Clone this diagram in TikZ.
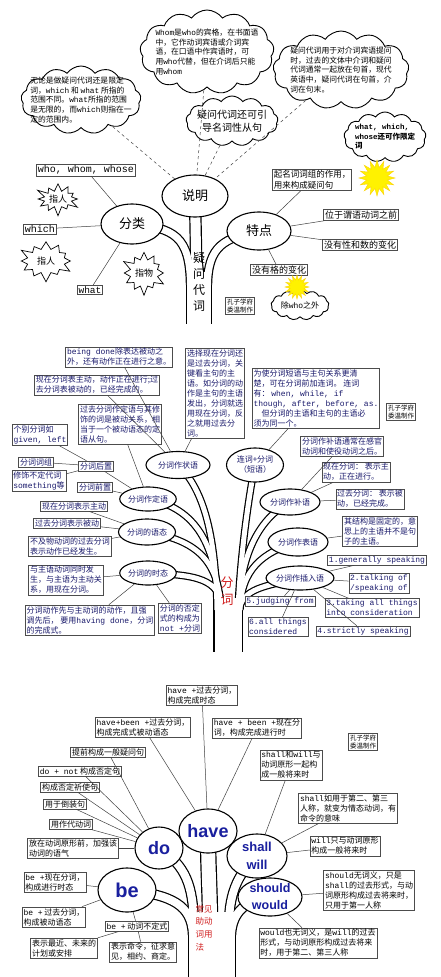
\documentclass[tikz,border=0pt]{standalone}
\usepackage{fontspec}
\setmainfont{Noto Sans CJK SC}
\newfontfamily\enmono{Liberation Mono}
\newfontfamily\ensans{Liberation Sans}
\usetikzlibrary{shapes.geometric,shapes.symbols,backgrounds}
\definecolor{NoteBlue}{rgb}{0.1,0.1,0.42}
\definecolor{VerbBlue}{rgb}{0.1,0.12,0.62}
\definecolor{StemRed}{rgb}{0.82,0.12,0.12}
\newcommand{\ent}[1]{{\enmono #1}}

\tikzset{
  box/.style={draw=black!70, line width=0.6pt, fill=white, inner sep=1.3pt, align=left, font=\fontsize{8}{10}\selectfont},
  nbox/.style={box, text=NoteBlue},
  ell/.style={draw, ellipse, line width=1.1pt, fill=white, inner sep=0pt, align=center},
  nell/.style={ell, text=NoteBlue, font=\fontsize{8}{10}\selectfont},
  vell/.style={ell, text=VerbBlue, font=\ensans\bfseries\fontsize{18}{20}\selectfont},
  link/.style={draw=black!75, line width=0.5pt},
  hint/.style={draw=black!75, dashed, line width=0.5pt},
  puff/.style={cloud, cloud puffs=13, cloud puff arc=110, draw, line width=0.9pt, fill=white, cloud ignores aspect, inner sep=0pt},
  cloudtxt/.style={align=left, inner sep=0pt, font=\fontsize{7.8}{9.8}\selectfont},
  burst/.style={starburst, starburst points=12, starburst point height=10pt, draw, line width=0.7pt, fill=white, inner sep=0pt, font=\fontsize{9}{11}\selectfont},
  sun/.style={star, star points=16, star point ratio=1.7, fill=yellow, draw=yellow!70!orange, inner sep=0pt},
  bark/.style={draw=black, line width=#1+2.4pt},
  pith/.style={draw=white, line width=#1},
  stem/.style={align=left, inner sep=0pt, font=\fontsize{12}{15.7}\selectfont},
  sign/.style={box, font=\fontsize{6.5}{8}\selectfont}
}

% tree bodies, drawn twice: bark first, pith on top
\newcommand{\toptree}[1]{%
  \draw[#1=24pt] (199,272) -- (199,324);
  \draw[#1=10pt] (shuoming.center) -- (196,250) .. controls (196,262) and (198,268) .. (199,285);
  \draw[#1=7pt] (fenlei.center) .. controls (174,228) and (190,236) .. (190.5,285);
  \draw[#1=7pt] (tedian.center) .. controls (224,238) and (208,246) .. (207.5,285);
}
\newcommand{\midtree}[1]{%
  \draw[#1=27pt] (228,598) -- (228,652);
  \draw[#1=5pt] (zy.center) .. controls (205,490) and (216,540) .. (217,610);
  \draw[#1=5pt] (dy.center) .. controls (196,508) and (217,545) .. (219,610);
  \draw[#1=5pt] (yt.center) .. controls (196,540) and (219,560) .. (221,610);
  \draw[#1=5pt] (st.center) .. controls (195,575) and (221,578) .. (222,610);
  \draw[#1=5pt] (lce.center) .. controls (248,500) and (240,560) .. (238,610);
  \draw[#1=5pt] (bu.center) .. controls (256,520) and (240,560) .. (239,610);
  \draw[#1=5pt] (by.center) .. controls (262,552) and (241,570) .. (240,610);
  \draw[#1=5pt] (cr.center) .. controls (266,586) and (241,588) .. (239,612);
}
\newcommand{\bottree}[1]{%
  \draw[#1=46pt] (212,912) -- (212,980);
  \draw[#1=14pt] (have.center) .. controls (208,870) and (210,890) .. (210,925);
  \draw[#1=8pt] (do.center) .. controls (186,866) and (193,885) .. (194,925);
  \draw[#1=8pt] (be.center) .. controls (172,895) and (192,905) .. (193,935);
  \draw[#1=8pt] (shall.center) .. controls (240,872) and (229,890) .. (229,925);
  \draw[#1=8pt] (should.center) .. controls (246,900) and (232,912) .. (231,935);
}

\begin{document}
\begin{tikzpicture}[x=1pt,y=-1pt]
\begin{pgfonlayer}{background}
\fill[white] (0,0) rectangle (440,977);
\end{pgfonlayer}
\useasboundingbox (0,0) rectangle (440,977);

% ---------- interrogative pronouns
\node[puff, minimum width=120pt, minimum height=68pt] (cA) at (81,100) {};
\node[cloudtxt] (tA) at (cA) {无论是做疑问代词还是限定\\词，\ent{which} 和 \ent{what} 所指的\\范围不同。\ent{what}所指的范围\\是无限的，而\ent{which}则指在一\\定的范围内。};
\node[puff, minimum width=134pt, minimum height=84pt] (cB) at (207,52) {};
\node[cloudtxt] (tB) at (cB) {\ent{Whom}是\ent{who}的宾格，在书面语\\中，它作动词宾语或介词宾\\语，在口语中作宾语时，可\\用\ent{who}代替，但在介词后只能\\用\ent{whom}};
\node[puff, minimum width=92pt, minimum height=50pt] (cC) at (232,121) {};
\node[cloudtxt, align=center, font=\fontsize{10}{13}\selectfont] (tC) at (cC) {疑问代词还可引\\导名词性从句};
\node[puff, minimum width=136pt, minimum height=78pt] (cD) at (341,70) {};
\node[cloudtxt] (tD) at (cD) {疑问代词用于对介词宾语提问\\时，过去的文体中介词和疑问\\代词通常一起放在句首，现代\\英语中，疑问代词在句首，介\\词在句末。};
\node[puff, minimum width=82pt, minimum height=50pt] (cE) at (385,137) {};
\node[cloudtxt, font=\fontsize{7.5}{9.5}\selectfont\bfseries] (tE) at (cE) {\ent{what, which,}\\\ent{whose}还可作限定\\词};
\node[sun, minimum size=36pt] (sunA) at (377,178) {};

\node[ell, minimum width=66pt, minimum height=42pt, font=\fontsize{13}{15}\selectfont] (shuoming) at (195,196) {说明};
\node[ell, minimum width=62pt, minimum height=40pt, font=\fontsize{13}{15}\selectfont] (fenlei) at (132,224) {分类};
\node[ell, minimum width=64pt, minimum height=38pt, font=\fontsize{13}{15}\selectfont] (tedian) at (259,231) {特点};
\node[stem] (yiwen) at (199,282) {疑\\问\\代\\词};

\node[box, font=\fontsize{10}{12}\selectfont] (who) at (86,170) {\ent{who, whom, whose}};
\node[box, font=\fontsize{10}{12}\selectfont] (which) at (40,229) {\ent{which}};
\node[box, font=\fontsize{9.5}{11}\selectfont] (what) at (90,290) {\ent{what}};
\node[burst, minimum width=48pt, minimum height=36pt] (zhirenA) at (58,199) {指人};
\node[burst, minimum width=58pt, minimum height=44pt] (zhirenB) at (46,261) {指人};
\node[burst, minimum width=48pt, minimum height=47pt] (zhiwu) at (144,273) {指物};

\node[box, font=\fontsize{8.5}{10.5}\selectfont] (qiming) at (312,180) {起名词词组的作用，\\用来构成疑问句};
\node[box, font=\fontsize{9}{11}\selectfont] (weiyu) at (361,215) {位于谓语动词之前};
\node[box, font=\fontsize{9}{11}\selectfont] (xingshu) at (360,245) {没有性和数的变化};
\node[box, font=\fontsize{9}{11}\selectfont] (gebian) at (279,270) {没有格的变化};
\node[puff, minimum width=58pt, minimum height=30pt] (cF) at (300,305) {};
\node[cloudtxt, font=\fontsize{8}{10}\selectfont] (tF) at (cF) {除\ent{who}之外};
\node[sun, minimum size=24pt] (sunB) at (297,287) {};
\node[sign] (signA) at (240,306) {孔子学府\\委温制作};

\draw[link] (fenlei) -- (who);
\draw[link] (fenlei) -- (which);
\draw[link] (fenlei) -- (what);
\draw[link] (tedian) -- (qiming);
\draw[link] (tedian) -- (weiyu);
\draw[link] (tedian) -- (xingshu);
\draw[link] (tedian) -- (gebian);
\foreach \c in {cA,cB,cC,cD}
  \draw[hint] (\c) -- (shuoming);

% ---------- participles
\node[nbox] (bd) at (119,357) {\ent{being done}除表达被动之\\外，还有动作正在进行之意。};
\node[nbox] (xz) at (97,385) {现在分词表主动，动作正在进行;过\\去分词表被动的，已经完成的。};
\node[nbox] (xd) at (215,393) {选择现在分词还\\是过去分词，关\\键看主句的主\\语。如分词的动\\作是主句的主语\\发出，分词就选\\用现在分词，反\\之就用过去分\\词。};
\node[nbox] (gq) at (120,424) {过去分词作定语与其修\\饰的词是被动关系，相\\当于一个被动语态的定\\语从句。};
\node[nbox] (gb) at (40,435) {个别分词如\\\ent{given, left}};
\node[nbox] (fz) at (36,462) {分词词组};
\node[nbox] (hz) at (96,466) {分词后置};
\node[nbox] (xs) at (39,481) {修饰不定代词\\\ent{something}等};
\node[nbox] (qz) at (95,487) {分词前置};
\node[nell, minimum width=64pt, minimum height=27pt] (zy) at (178,465) {分词作状语};
\node[nell, minimum width=56pt, minimum height=24pt] (dy) at (148,499) {分词作定语};

\node[nbox] (lcb) at (316,398) {为使分词短语与主句关系更清\\楚，可在分词前加连词。 连词\\有： \ent{when, while, if}\\\ent{though, after, before, as.}\\\quad 但分词的主语和主句的主语必\\须为同一个。};
\node[sign] (signB) at (401,412) {孔子学府\\委温制作};
\node[nell, minimum width=57pt, minimum height=34pt] (lce) at (255,465) {连词+分词\\（短语）};
\node[nbox] (bc) at (342,446) {分词作补语通常在感官\\动词和使役动词之后。};
\node[nbox] (xzf) at (356,472) {现在分词： 表示主\\动，正在进行。};
\node[nbox] (gqf) at (370,499) {过去分词： 表示被\\动，已经完成。};
\node[nell, minimum width=60pt, minimum height=26pt] (bu) at (290,502) {分词作补语};
\node[nbox] (jg) at (380,531) {其结构是固定的，意\\思上的主语并不是句\\子的主语。};
\node[nell, minimum width=60pt, minimum height=28pt] (by) at (298,542) {分词作表语};
\node[nell, minimum width=64pt, minimum height=24pt] (cr) at (300,578) {分词作插入语};
\node[nbox] (g1) at (377,560) {\ent{1.generally speaking}};
\node[nbox] (g2) at (379,583) {\ent{2.talking of}\\\ent{/speaking of}};
\node[nbox] (g5) at (280,601) {\ent{5.judging from}};
\node[nbox] (g3) at (372,608) {\ent{3.taking all things}\\\ent{into consideration}};
\node[nbox] (g6) at (278,627) {\ent{6.all things}\\\ent{considered}};
\node[nbox] (g4) at (363,631) {\ent{4.strictly speaking}};

\node[nbox] (xzzd) at (74,506) {现在分词表示主动};
\node[nbox] (gqbd) at (67,523) {过去分词表示被动};
\node[nbox] (bjw) at (70,546) {不及物动词的过去分词\\表示动作已经发生。};
\node[nell, minimum width=57pt, minimum height=26pt] (yt) at (147,532) {分词的语态};
\node[nbox] (ts) at (66,580) {与主语动词同时发\\生，与主语为主动关\\系，用现在分词。};
\node[nell, minimum width=54pt, minimum height=24pt] (st) at (148,573) {分词的时态};
\node[nbox] (wc) at (90,620) {分词动作先与主动词的动作，且强\\调先后， 要用\ent{having done}，分词\\的完成式。};
\node[nbox] (fd) at (180,618) {分词的否定\\式的构成为\\\ent{not +}分词};
\node[stem, text=StemRed, font=\fontsize{13}{17}\selectfont] (fenci) at (227,591) {分\\词};

\foreach \b in {bd,xz,xd}
  \draw[link] (zy) -- (\b);
\foreach \b in {gq,hz,qz}
  \draw[link] (dy) -- (\b);
\foreach \b in {gb,fz,xs}
  \draw[link] (hz) -- (\b);
\foreach \b in {xzzd,gqbd,bjw}
  \draw[link] (yt) -- (\b);
\foreach \b in {ts,wc,fd}
  \draw[link] (st) -- (\b);
\draw[link] (lce) -- (lcb);
\foreach \b in {bc,xzf,gqf}
  \draw[link] (bu) -- (\b);
\draw[link] (by) -- (jg);
\foreach \b in {g1,g2,g3,g4,g5,g6}
  \draw[link] (cr) -- (\b);

% ---------- auxiliary verbs
\node[box] (h1) at (202,695) {\ent{have +}过去分词，\\构成完成时态};
\node[box] (h2) at (143,727) {\ent{have+been +}过去分词，\\构成完成式被动语态};
\node[box] (h3) at (257,728) {\ent{have + been +}现在分\\词，构成完成进行时};
\node[box] (d1) at (108,752) {提前构成一般疑问句};
\node[box] (d2) at (80,771) {\ent{do + not} 构成否定句};
\node[box] (d3) at (70,787) {构成否定祈使句};
\node[box] (d4) at (65,804) {用于倒装句};
\node[sign] (signC) at (363,742) {孔子学府\\委温制作};
\node[box] (s1) at (291,765) {\ent{shall}和\ent{will}与\\动词原形一起构\\成一般将来时};
\node[box] (s2) at (348,808) {\ent{shall}如用于第二、第三\\人称，就变为情态动词，有\\命令的意味};
\node[box] (d5) at (71,824) {用作代动词};
\node[box] (d6) at (73,848) {放在动词原形前，加强该\\动词的语气};
\node[vell, minimum width=48pt, minimum height=42pt] (do) at (159,848) {do};
\node[vell, minimum width=52pt, minimum height=44pt] (have) at (208,831) {have};
\node[box] (b1) at (55,882) {\ent{be +}现在分词，\\构成进行时态};
\node[vell, minimum width=58pt, minimum height=44pt, font=\ensans\bfseries\fontsize{20}{22}\selectfont] (be) at (127,890) {be};
\node[box] (b2) at (54,917) {\ent{be +} 过去分词，\\构成被动语态};
\node[box] (b3) at (137,926) {\ent{be +} 动词不定式};
\node[box] (b4) at (64,948) {表示最近、未来的\\计划或安排};
\node[box] (b5) at (143,952) {表示命令，征求意\\见，相约、商定。};
\node[vell, minimum width=60pt, minimum height=44pt, font=\ensans\bfseries\fontsize{13}{18}\selectfont] (shall) at (257,856) {shall\\will};
\node[box] (s3) at (345,846) {\ent{will}只与动词原形\\构成一般将来时};
\node[vell, minimum width=64pt, minimum height=38pt, font=\ensans\bfseries\fontsize{12.5}{17}\selectfont] (should) at (270,897) {should\\would};
\node[box] (s4) at (369,890) {\ent{should}无词义，只是\\\ent{shall}的过去形式，与动\\词原形构成过去将来时，\\只用于第一人称};
\node[box] (s5) at (318,943) {\ent{would}也无词义，是\ent{will}的过去\\形式，与动词原形构成过去将来\\时，用于第二、第三人称};
\node[stem, text=StemRed, font=\fontsize{8.5}{12.7}\selectfont] (changjian) at (204,928) {常见\\助动\\词用\\法};

\foreach \b in {h1,h2,h3}
  \draw[link] (have) -- (\b);
\foreach \b in {d1,d2,d3,d4,d5,d6}
  \draw[link] (do) -- (\b);
\foreach \b in {b1,b2,b3}
  \draw[link] (be) -- (\b);
\draw[link] (b3) -- (b4);
\draw[link] (b3) -- (b5);
\foreach \b in {s1,s2,s3}
  \draw[link] (shall) -- (\b);
\foreach \b in {s4,s5}
  \draw[link] (should) -- (\b);

% ---------- tree bodies behind the nodes
\begin{pgfonlayer}{background}
\toptree{bark}
\midtree{bark}
\bottree{bark}
\toptree{pith}
\midtree{pith}
\bottree{pith}
\end{pgfonlayer}
\end{tikzpicture}
\end{document}
